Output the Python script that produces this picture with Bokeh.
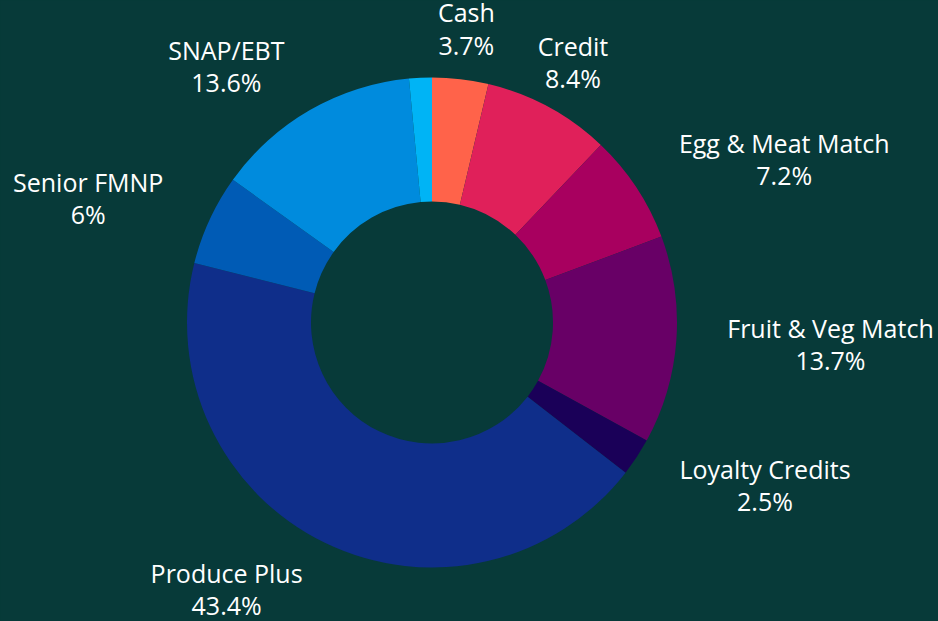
import math
from bokeh.plotting import figure
from bokeh.models import ColumnDataSource, Range1d
from bokeh.embed import file_html
from bokeh.resources import INLINE
from bokeh.core.properties import value

# ---- data ----
categories = ["Cash", "Credit", "Egg & Meat Match", "Fruit & Veg Match",
              "Loyalty Credits", "Produce Plus", "Senior FMNP", "SNAP/EBT", "Other"]
shares = [3.7, 8.4, 7.2, 13.7, 2.5, 43.4, 6.0, 13.6, 1.5]
show_label = [True, True, True, True, True, True, True, True, False]

# ---- style ----
colors = ["#FF634A", "#E0205A", "#A8005F", "#680066", "#1A0058",
          "#0F2E8A", "#005BB5", "#008BDD", "#00B4F5"]
anchors = ["center", "center", "center_left", "center_left", "center_left",
           "center_right", "center_right", "center_right", "center"]
BG = "#073A39"
W, H = 938, 621
CX, CY = 431.5, 322          # donut centre in frame pixels (from top-left)
R_OUT, R_IN, R_LAB = 245, 121, 296

total = sum(shares)
starts, ends, mids = [], [], []
cum = 0.0
for v in shares:
    a0 = math.pi / 2 - 2 * math.pi * cum / total
    cum += v
    a1 = math.pi / 2 - 2 * math.pi * cum / total
    starts.append(a0)
    ends.append(a1)
    mids.append((a0 + a1) / 2)

src = ColumnDataSource(dict(cat=categories, share=shares, color=colors,
                            start=starts, end=ends))

p = figure(width=W, height=H, output_backend="svg", toolbar_location=None,
           x_range=Range1d(-CX, W - CX), y_range=Range1d(-(H - CY), CY),
           background_fill_color=BG, border_fill_color=BG, min_border=0,
           outline_line_color=None)
p.axis.visible = False
p.grid.visible = False

p.annular_wedge(x=0, y=0, inner_radius=R_IN, outer_radius=R_OUT,
                start_angle="start", end_angle="end", direction="clock",
                fill_color="color", line_color=None, source=src)

lx, ly, lt, la = [], [], [], []
for c, v, m, s, an in zip(categories, shares, mids, show_label, anchors):
    if not s:
        continue
    lx.append(R_LAB * math.cos(m))
    ly.append(R_LAB * math.sin(m))
    lt.append(f"{c}\n{v:g}%")
    la.append(an)

lab = ColumnDataSource(dict(x=lx, y=ly, text=lt, anchor=la))
p.text(x="x", y="y", text="text", anchor="anchor", source=lab,
       text_align="center", text_baseline="middle",
       text_color="white", text_font=value("Open Sans"), text_font_size="25px",
       text_line_height=0.95)

html = file_html(p, INLINE)
html = html.replace("<head>",
                    "<head><style>html,body{margin:0;padding:0;overflow:hidden;background:%s;}</style>" % BG, 1)
open("out.html", "w").write(html)
